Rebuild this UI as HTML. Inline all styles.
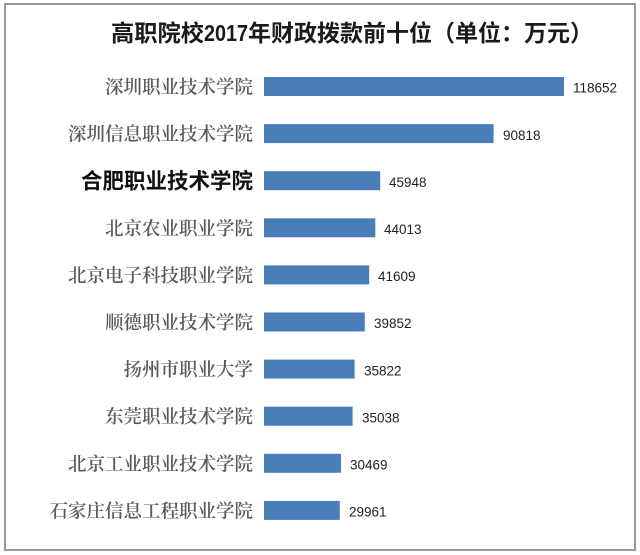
<!DOCTYPE html>
<html>
<head>
<meta charset="utf-8">
<style>
  html, body { margin: 0; padding: 0; background: #ffffff; }
  body { width: 640px; height: 555px; overflow: hidden; }
  svg { display: block; }
  .cat { font-family: "Liberation Serif", "Noto Serif CJK SC", serif; font-size: 18.5px; fill: #5a5a5a; font-weight: 600; }
  .catb { font-family: "Liberation Sans", "Noto Sans CJK SC", sans-serif; font-size: 21.5px; fill: #111111; font-weight: 700; }
  .val { font-family: "Liberation Sans", "DejaVu Sans", sans-serif; font-size: 13.5px; fill: #222222; }
  .title { font-family: "Liberation Sans", "Noto Sans CJK SC", sans-serif; font-size: 23px; font-weight: 700; fill: #1a1a1a; }
</style>
</head>
<body>
<svg width="640" height="555" viewBox="0 0 640 555" xmlns="http://www.w3.org/2000/svg">
  <rect x="0" y="0" width="640" height="555" fill="#ffffff"/>
  <rect x="5" y="4" width="630" height="546" fill="#ffffff" stroke="#9a9a9a" stroke-width="2"/>

  <!-- Title -->
  <text class="title" y="41">
    <tspan x="111" textLength="93" lengthAdjust="spacingAndGlyphs">高职院校</tspan>
    <tspan x="204" textLength="44" lengthAdjust="spacingAndGlyphs">2017</tspan>
    <tspan x="248">年财政拨款前十位（单位：万元）</tspan>
  </text>

  <!-- Bars -->
  <g fill="#4a7ebb">
    <rect x="264" y="77" width="300" height="19"/>
    <rect x="264" y="124.1" width="229.6" height="19"/>
    <rect x="264" y="171.2" width="116.2" height="19"/>
    <rect x="264" y="218.3" width="111.3" height="19"/>
    <rect x="264" y="265.4" width="105.2" height="19"/>
    <rect x="264" y="312.5" width="100.8" height="19"/>
    <rect x="264" y="359.6" width="90.6" height="19"/>
    <rect x="264" y="406.7" width="88.6" height="19"/>
    <rect x="264" y="453.8" width="77.0" height="19"/>
    <rect x="264" y="500.9" width="75.8" height="19"/>
  </g>

  <!-- Value labels -->
  <g class="val">
    <text x="573" y="92.7">118652</text>
    <text x="503" y="139.8">90818</text>
    <text x="389" y="186.9">45948</text>
    <text x="384" y="234.0">44013</text>
    <text x="378" y="281.1">41609</text>
    <text x="374" y="328.2">39852</text>
    <text x="364" y="375.3">35822</text>
    <text x="362" y="422.4">35038</text>
    <text x="350" y="469.5">30469</text>
    <text x="349" y="516.6">29961</text>
  </g>

  <!-- Category labels -->
  <g text-anchor="end">
    <text class="cat" x="253" y="93.5">深圳职业技术学院</text>
    <text class="cat" x="253" y="140.6">深圳信息职业技术学院</text>
    <text class="catb" x="253" y="188.5">合肥职业技术学院</text>
    <text class="cat" x="253" y="234.8">北京农业职业学院</text>
    <text class="cat" x="253" y="281.9">北京电子科技职业学院</text>
    <text class="cat" x="253" y="329.0">顺德职业技术学院</text>
    <text class="cat" x="253" y="376.1">扬州市职业大学</text>
    <text class="cat" x="253" y="423.2">东莞职业技术学院</text>
    <text class="cat" x="253" y="470.3">北京工业职业技术学院</text>
    <text class="cat" x="253" y="517.4">石家庄信息工程职业学院</text>
  </g>
</svg>
</body>
</html>
